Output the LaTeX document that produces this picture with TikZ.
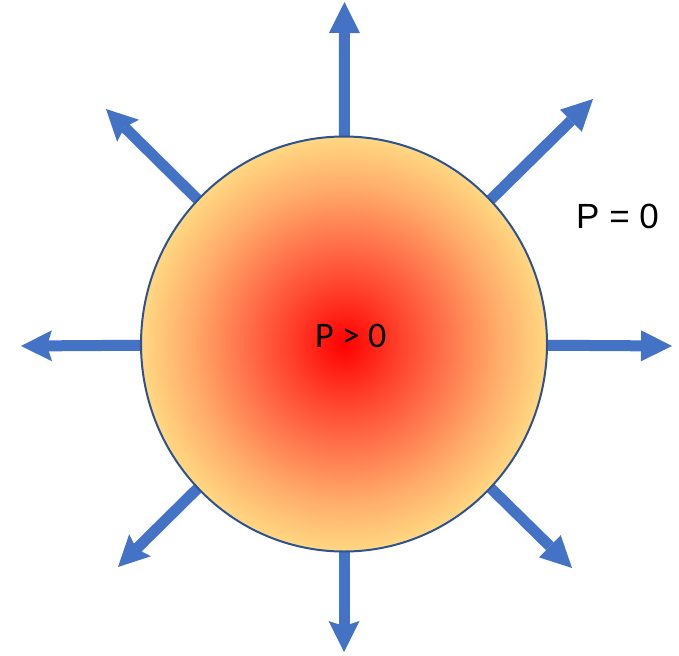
\documentclass[tikz,border=0pt]{standalone}
\usepackage{fontspec}
\setmainfont{Carlito}
\newfontfamily\arialf{Liberation Sans}
\usetikzlibrary{arrows.meta,shapes.geometric,backgrounds}
\definecolor{arrowblue}{RGB}{68,114,196}
\definecolor{rimblue}{RGB}{47,82,143}
\definecolor{sunA}{RGB}{255,0,0}
\definecolor{sunB}{RGB}{255,60,40}
\definecolor{sunC}{RGB}{255,115,75}
\definecolor{sunD}{RGB}{255,170,105}
\definecolor{sunE}{RGB}{255,216,130}
\pgfdeclareradialshading{sun}{\pgfpoint{0bp}{0bp}}{%
  color(0bp)=(sunA);
  color(6.25bp)=(sunB);
  color(12.5bp)=(sunC);
  color(18.75bp)=(sunD);
  color(25bp)=(sunE);
  color(50bp)=(sunE)}
\tikzset{
  ray/.style={draw=arrowblue,line width=11pt,shorten <=-5pt},
  tri/.style={-{Triangle[length=31pt,width=31pt,line width=0pt]}},
  stl/.style={-{Stealth[length=31pt,width=31pt,inset=5pt,line width=0pt]}},
  lbl/.style={inner sep=0pt,font=\fontsize{36}{40}\selectfont}
}
\begin{document}
\begin{tikzpicture}[x=1pt,y=-1pt]
\useasboundingbox (0,0) rectangle (679,655);
\node[ellipse,minimum width=406pt,minimum height=415pt,inner sep=0pt,
      shading=sun,draw=rimblue,line width=2pt] (ball) at (344,344) {};
\node[lbl,anchor=base west] (pin) at (315,347) {P > 0};
\node[lbl,anchor=base west,font=\arialf\fontsize{35}{40}\selectfont] (pout) at (576,228) {P = 0};
\coordinate (tN) at (344.5,2);
\coordinate (tS) at (344,652);
\coordinate (tW) at (21,346);
\coordinate (tE) at (672,346);
\coordinate (tNE) at (593,99);
\coordinate (tNW) at (106,109);
\coordinate (tSW) at (118,567);
\coordinate (tSE) at (572,568);
\begin{scope}[on background layer]
\draw[ray,tri] (ball) -- (tN);
\draw[ray,tri] (ball) -- (tE);
\draw[ray,tri] (ball) -- (tNE);
\draw[ray,tri] (ball) -- (tSE);
\draw[ray,stl] (ball) -- (tS);
\draw[ray,stl] (ball) -- (tW);
\draw[ray,stl] (ball) -- (tNW);
\draw[ray,stl] (ball) -- (tSW);
\end{scope}
\end{tikzpicture}
\end{document}
